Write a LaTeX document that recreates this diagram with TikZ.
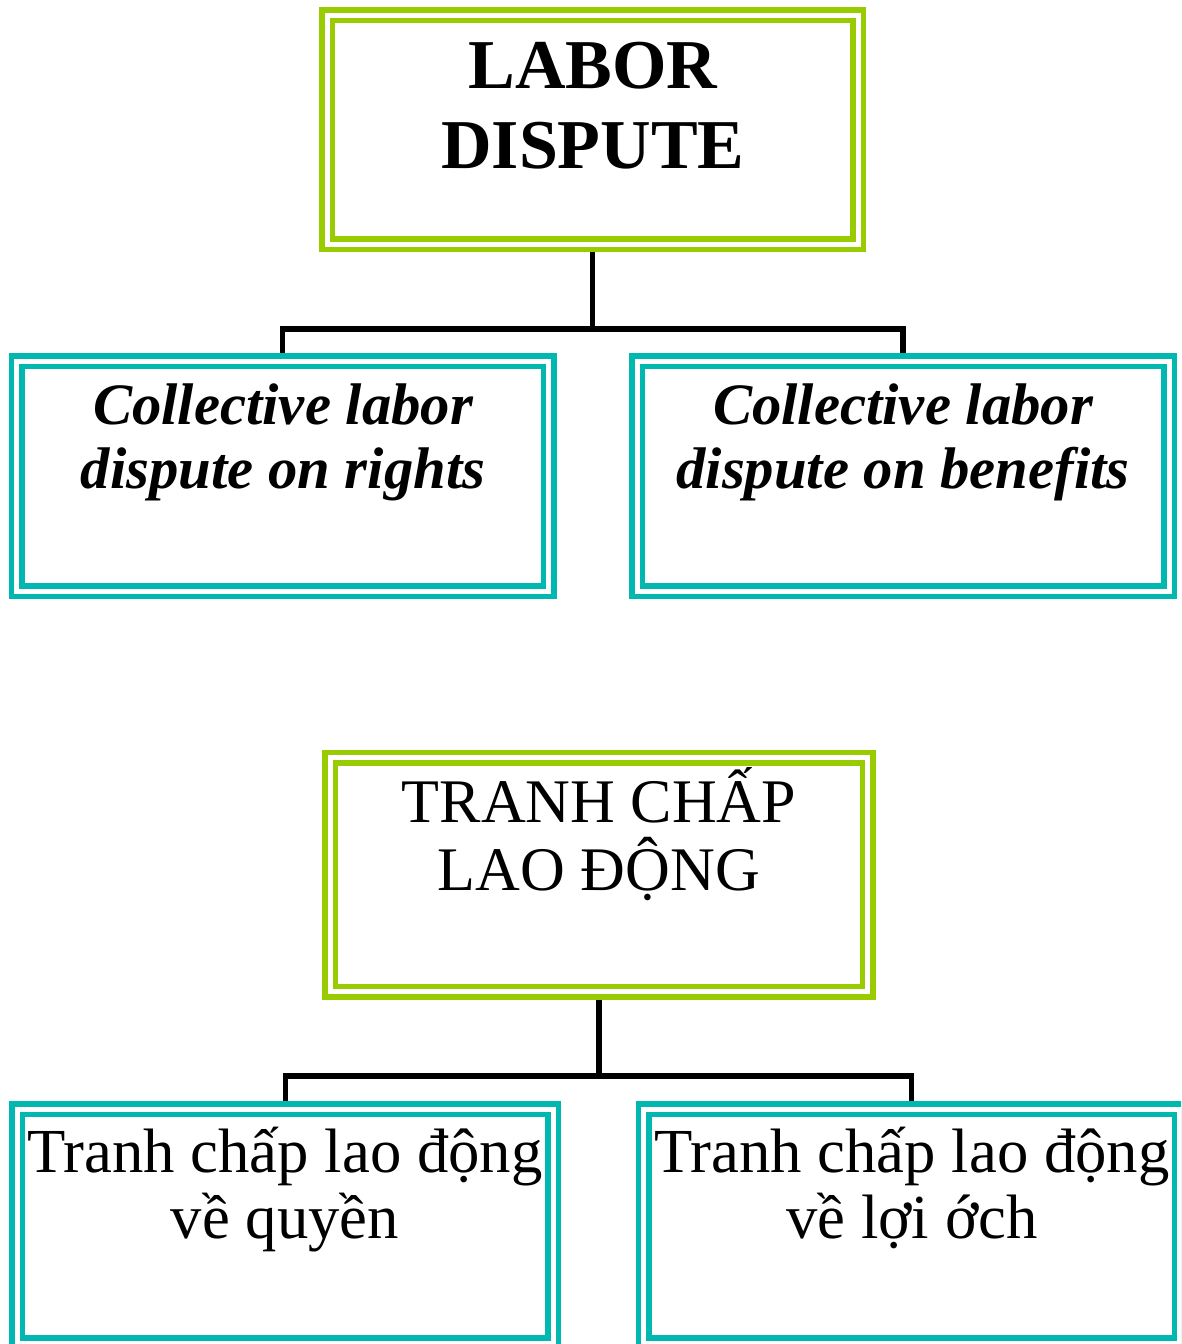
\documentclass[tikz,border=0pt]{standalone}
\usepackage{fontspec}
\setmainfont{Liberation Serif}
\usetikzlibrary{backgrounds}
\definecolor{framegreen}{RGB}{153,204,0}
\definecolor{frameteal}{RGB}{0,184,176}
\tikzset{
  frame/.style={rectangle, line width=5.5pt, double=white, double distance=5pt,
    inner sep=0pt, outer sep=0pt},
  greenframe/.style={frame, draw=framegreen},
  tealframe/.style={frame, draw=frameteal},
  link/.style={draw=black, line width=5.5pt},
  % text nodes are placed by the baseline of their last line
  headtext/.style={anchor=base, align=center, inner sep=0pt,
    font=\fontsize{70}{80}\selectfont\bfseries},
  subtext/.style={anchor=base, align=center, inner sep=0pt,
    font=\fontsize{58.7}{64}\selectfont\bfseries\itshape},
  vnhead/.style={anchor=base, align=center, inner sep=0pt,
    font=\fontsize{62}{68}\selectfont},
  vnsub/.style={anchor=base, align=center, inner sep=0pt,
    font=\fontsize{62.7}{66}\selectfont},
}
\begin{document}
\begin{tikzpicture}[x=1pt, y=-1pt]
  \useasboundingbox (0,0) rectangle (1181,1344);
  \clip (0,0) rectangle (1181,1344);

  % English tree
  \node[greenframe, minimum width=531pt, minimum height=229pt] (A) at (592.5,129.5) {};
  \node[tealframe, minimum width=532pt, minimum height=230pt] (B1) at (282.5,476) {};
  \node[tealframe, minimum width=532pt, minimum height=230pt] (B2) at (903,476) {};

  \node[headtext] (tA) at (593,168) {LABOR\\DISPUTE};
  \node[subtext] (tB1) at (283,488) {Collective labor\\dispute on rights};
  \node[subtext] (tB2) at (903,488) {Collective labor\\dispute on benefits};

  % Vietnamese tree
  \node[greenframe, minimum width=537.5pt, minimum height=234pt] (C) at (598.75,874.5) {};
  \node[tealframe, minimum width=536pt, minimum height=234pt] (D1) at (285.4,1226) {};
  \node[tealframe, minimum width=536pt, minimum height=234pt] (D2) at (911.5,1226) {};

  \node[vnhead] (tC) at (599,890) {TRANH CHẤP\\LAO ĐỘNG};
  \node[vnsub] (tD1) at (285,1238) {Tranh chấp lao động\\về quyền};
  \node[vnsub] (tD2) at (912,1238) {Tranh chấp lao động\\về lợi ớch};

  % connectors, kept underneath the frames
  \coordinate (bar1) at (0,329);
  \coordinate (bar2) at (0,1076);
  \begin{scope}[on background layer]
    \draw[link] (A.south) -- (A.south |- bar1);
    \draw[link] (B1.north) |- (A.south |- bar1) -| (B2.north);
    \draw[link] (C.south) -- (C.south |- bar2);
    \draw[link] (D1.north) |- (C.south |- bar2) -| (D2.north);
  \end{scope}
\end{tikzpicture}
\end{document}
